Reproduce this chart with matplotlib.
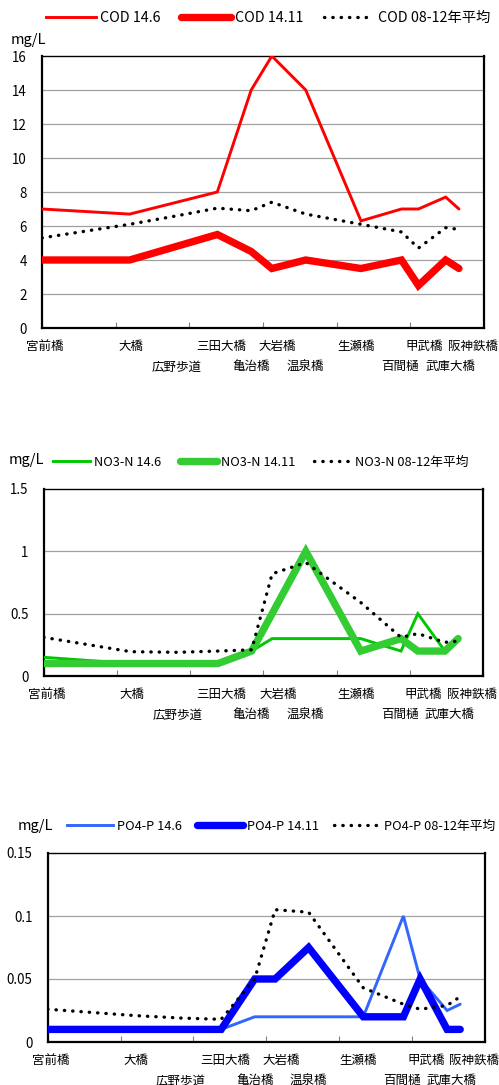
import numpy as np
import matplotlib
matplotlib.use('Agg')
import matplotlib.pyplot as plt

plt.rcParams['font.family'] = ['Noto Sans CJK JP', 'DejaVu Sans']

# Stations (position along the river, axis units 0-6)
stations = ['宮前橋', '大橋', '広野歩道', '三田大橋', '亀治橋', '大岩橋', '温泉橋',
            '生瀬橋', '百間樋', '甲武橋', '武庫大橋', '阪神鉄橋']
station_x = [0.0, 1.19, 1.83, 2.38, 2.84, 3.12, 3.58, 4.33, 4.88, 5.11, 5.48, 5.66]

# COD (mg/L)
cod_1406 = [7.0, 6.7, None, 8.0, 14.0, 16.0, 14.0, 6.3, 7.0, 7.0, 7.7, 7.0]
cod_1411 = [4.0, 4.0, None, 5.5, 4.5, 3.5, 4.0, 3.5, 4.0, 2.5, 4.0, 3.5]
cod_avg = [5.3, 6.1, 6.6, 7.05, 6.9, 7.4, 6.7, 6.1, 5.65, 4.7, 5.9, 5.8]

# NO3-N (mg/L)
no3_1406 = [0.15, 0.1, None, 0.1, 0.2, 0.3, 0.3, 0.3, 0.2, 0.5, 0.2, 0.3]
no3_1411 = [0.1, 0.1, None, 0.1, 0.2, 0.5, 1.0, 0.2, 0.3, 0.2, 0.2, 0.3]
no3_avg = [0.31, 0.195, 0.19, 0.2, 0.21, 0.82, 0.91, 0.59, 0.31, 0.34, 0.27, 0.28]

# PO4-P (mg/L)
po4_1406 = [0.01, 0.01, None, 0.01, 0.02, 0.02, 0.02, 0.02, 0.1, 0.05, 0.025, 0.03]
po4_1411 = [0.01, 0.01, None, 0.01, 0.05, 0.05, 0.075, 0.02, 0.02, 0.05, 0.01, 0.01]
po4_avg = [0.026, 0.021, 0.019, 0.018, 0.05, 0.105, 0.103, 0.043, 0.03, 0.026, 0.029, 0.036]

# label layout: x position in axis units and row (0 = upper, 1 = lower)
label_x = [0.04, 1.21, 1.83, 2.43, 2.84, 3.20, 3.57, 4.26, 4.86, 5.19, 5.54, 5.85]
label_row = [0, 0, 1, 0, 1, 0, 1, 0, 1, 0, 1, 0]

fig = plt.figure(figsize=(4.99, 10.85), dpi=100)

DOT = (0, (0.1, 2.4))


def pix_axes(left, top, right, bottom):
    W, H = 499.0, 1085.0
    return fig.add_axes([left / W, 1 - bottom / H, (right - left) / W, (bottom - top) / H])


def draw_panel(ax, name, s1, s2, s3, c1, c2, ymax, ystep, yfmt):
    x = np.array(station_x)
    for vals, col, lw, ls in [(s1, c1, 2.1, '-'), (s2, c2, 5.3, '-'), (s3, 'black', 2.4, DOT)]:
        v = np.array([np.nan if a is None else a for a in vals], dtype=float)
        m = ~np.isnan(v)
        ax.plot(x[m], v[m], color=col, lw=lw, linestyle=ls,
                solid_capstyle='round', dash_capstyle='round', solid_joinstyle='miter', zorder=3)
    ax.set_xlim(0, 6)
    ax.set_ylim(0, ymax)
    ax.set_xticks(np.arange(0, 7, 1))
    ax.set_xticklabels([])
    ax.tick_params(axis='x', direction='in', length=4, color='#808080', width=0.8)
    yt = np.arange(0, ymax + ystep / 2, ystep)
    ax.set_yticks(yt)
    ax.set_yticklabels([yfmt(t) for t in yt], fontsize=9.6)
    ax.tick_params(axis='y', length=0, pad=11)
    for t in yt[1:-1]:
        ax.axhline(t, color='#A0A0A0', lw=0.9, zorder=1)
    for side in ['left', 'bottom', 'right']:
        ax.spines[side].set_linewidth(1.6)
    ax.spines['top'].set_linewidth(1.0)
    for lab, lx, row in zip(stations, label_x, label_row):
        ax.annotate(lab, xy=(lx, 0), xycoords=('data', 'axes fraction'),
                    xytext=(0, -13 - row * 15), textcoords='offset points',
                    ha='center', va='center', fontsize=9, annotation_clip=False)
    h = [plt.Line2D([], [], color=c1, lw=2.1),
         plt.Line2D([], [], color=c2, lw=5.3, solid_capstyle='round'),
         plt.Line2D([], [], color='black', lw=2.4, linestyle=DOT, dash_capstyle='round')]
    labels = [name + ' 14.6', name + ' 14.11', name + ' 08-12年平均']
    return h, labels


def fmt_int(t):
    return '%d' % t


def fmt_g(t):
    return ('%g' % t) if t != 0 else '0'


# COD panel
ax1 = pix_axes(42, 56, 484, 328)
h, l = draw_panel(ax1, 'COD', cod_1406, cod_1411, cod_avg, '#FF0000', '#FF0000', 16, 2, fmt_int)
fig.legend(h, l, loc='center left', bbox_to_anchor=(46 / 499, 1 - 18 / 1085), ncol=3,
           frameon=False, fontsize=10.3, handlelength=3.5, handletextpad=0.3, columnspacing=1.4,
           borderaxespad=0, borderpad=0)
fig.text(11 / 499, 1 - 40 / 1085, 'mg/L', fontsize=10.5, va='center', ha='left')

# NO3-N panel
ax2 = pix_axes(43.7, 489, 483, 676)
h, l = draw_panel(ax2, 'NO3-N', no3_1406, no3_1411, no3_avg, '#00C800', '#33CC33', 1.5, 0.5, fmt_g)
fig.legend(h, l, loc='center left', bbox_to_anchor=(53 / 499, 1 - 462 / 1085), ncol=3,
           frameon=False, fontsize=9.2, handlelength=2.9, handletextpad=0.3, columnspacing=1.5,
           borderaxespad=0, borderpad=0)
fig.text(9 / 499, 1 - 460 / 1085, 'mg/L', fontsize=10.5, va='center', ha='left')

# PO4-P panel
ax3 = pix_axes(47.7, 853, 485, 1042)
h, l = draw_panel(ax3, 'PO4-P', po4_1406, po4_1411, po4_avg, '#3366FF', '#0000FF', 0.15, 0.05, fmt_g)
fig.legend(h, l, loc='center left', bbox_to_anchor=(67 / 499, 1 - 826 / 1085), ncol=3,
           frameon=False, fontsize=9.2, handlelength=3.6, handletextpad=0.3, columnspacing=1.2,
           borderaxespad=0, borderpad=0)
fig.text(18 / 499, 1 - 826 / 1085, 'mg/L', fontsize=10.5, va='center', ha='left')

fig.savefig('out.png', dpi=100)
